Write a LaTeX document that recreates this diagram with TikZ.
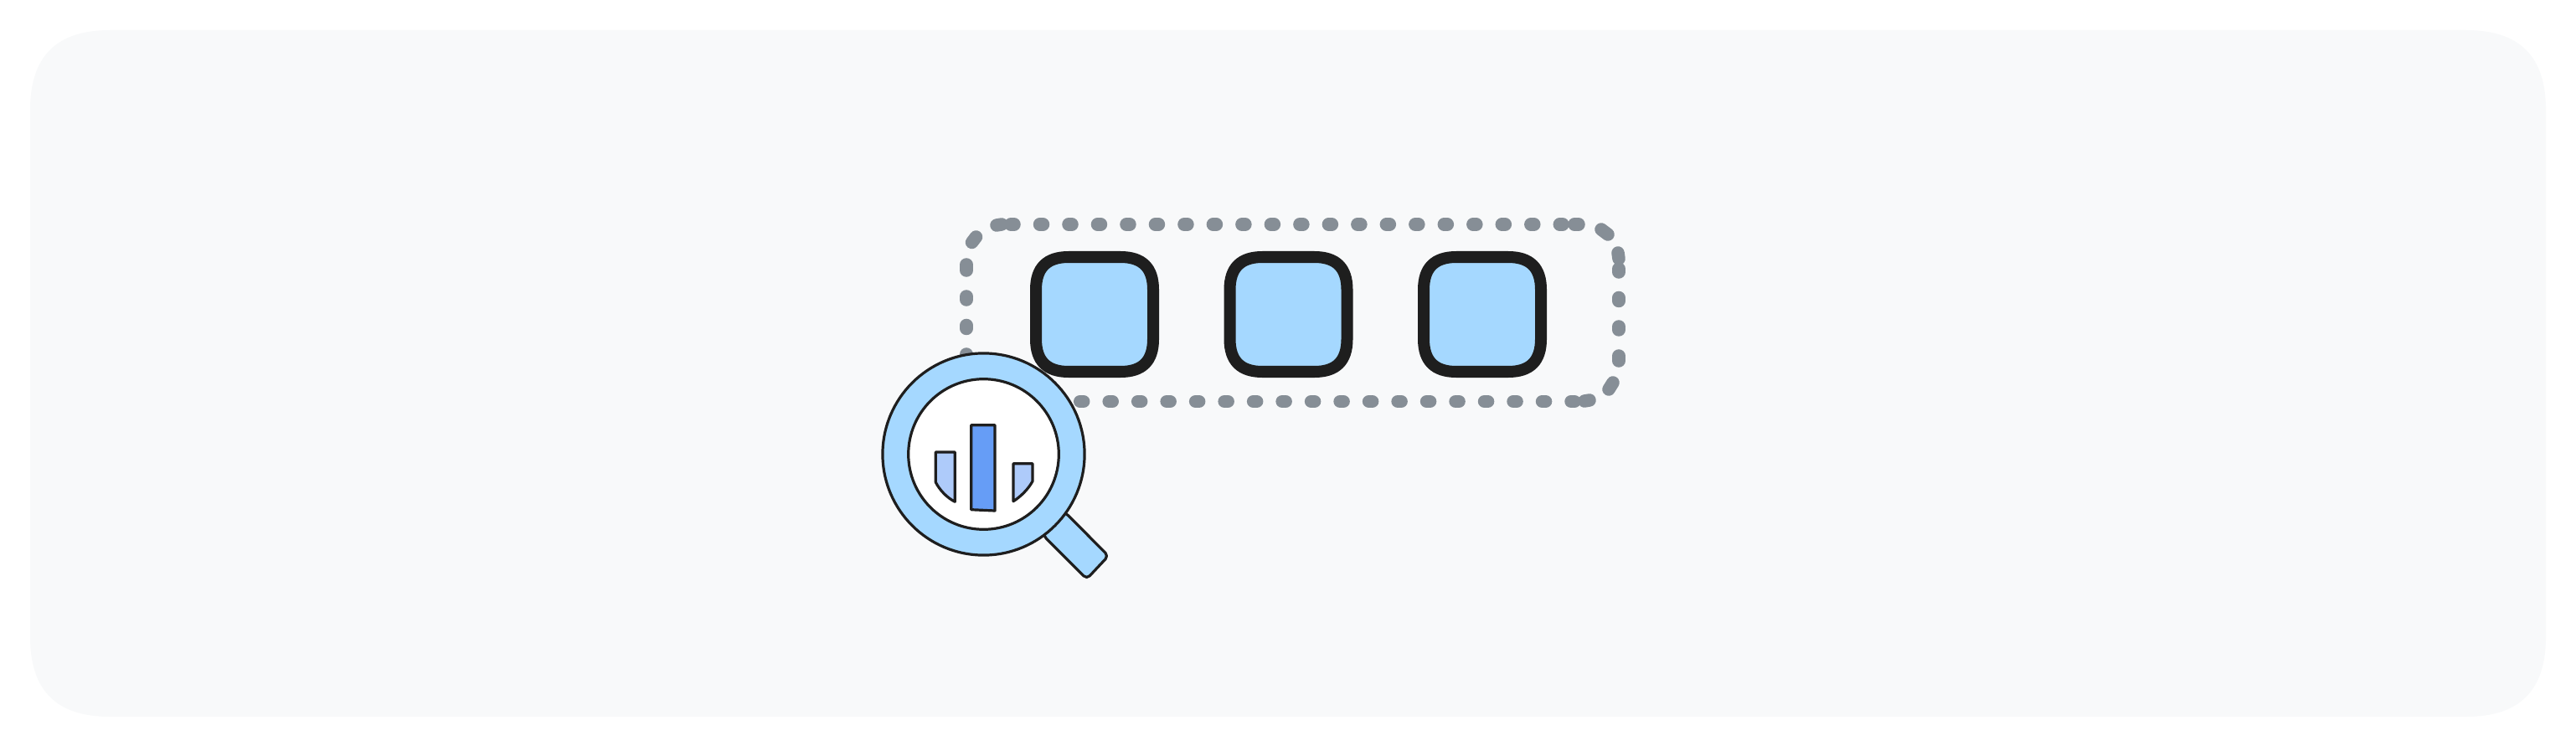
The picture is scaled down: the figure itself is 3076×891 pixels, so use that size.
\documentclass[tikz,border=0pt]{standalone}
\usepackage{tikz}

\definecolor{panelgray}{HTML}{F8F9FA}
\definecolor{dotgray}{HTML}{868E96}
\definecolor{inkblack}{HTML}{1E1E1E}
\definecolor{skyblue}{HTML}{A5D8FF}
\definecolor{barblue}{HTML}{669DF6}
\definecolor{barlight}{HTML}{AECBFA}

% style, left, top, right, bottom, corner length
\newcommand{\softbox}[6]{
    \path[#1] ({#2+#6}, #3) -- ({#4-#6}, #3)
        .. controls ({#4-.33*#6}, #3) and (#4, {#3+.33*#6}) .. (#4, {#3+#6}) -- (#4, {#5-#6})
        .. controls (#4, {#5-.33*#6}) and ({#4-.33*#6}, #5) .. ({#4-#6}, #5) -- ({#2+#6}, #5)
        .. controls ({#2+.33*#6}, #5) and (#2, {#5-.33*#6}) .. (#2, {#5-#6}) -- (#2, {#3+#6})
        .. controls (#2, {#3+.33*#6}) and ({#2+.33*#6}, #3) .. ({#2+#6}, #3) -- cycle;
}

\tikzset{
    dotline/.style = {draw=dotgray, line width=.155cm, line cap=round},
    dotrun/.style = {dotline, dash pattern=on .04cm off .3047cm},
    slotbox/.style = {draw=inkblack, fill=skyblue, line width=.14cm},
    lensline/.style = {draw=inkblack, line width=.032cm, line join=round},
    lensring/.style = {lensline, circle, inner sep=0pt},
}

\begin{document}
\begin{tikzpicture}[x=0.01cm, y=-0.01cm]
        \useasboundingbox (0, 0) rectangle (3076, 891);
        \softbox{fill=panelgray}{36}{36}{3040}{856}{95}

        % dotted frame, sides
        \draw[dotrun] (1207, 268) -- (1866, 268);
        \draw[dotrun] (1933, 321) -- (1933, 395);
        \draw[dotrun] (1289.7, 479.5) -- (1880, 479.5);
        \draw[dotrun] (1154, 354) -- (1154, 428);

        % dotted frame, corners
        \draw[dotline] (1190, 269) -- (1196, 268);
        \draw[dotline] (1880, 268) -- (1885, 268);
        \draw[dotline] (1912, 274) -- (1920, 280);
        \draw[dotline] (1932, 302) -- (1933, 309);
        \draw[dotline] (1933, 425) -- (1933, 431);
        \draw[dotline] (1926, 457) -- (1921, 465);
        \draw[dotline] (1892, 479) -- (1898, 478);
        \draw[dotline] (1154, 316) -- (1154, 323);
        \draw[dotline] (1160.5, 289.5) -- (1165.5, 283);

        % slots
        \softbox{slotbox}{1237}{307}{1377}{444}{39}
        \softbox{slotbox}{1468.5}{307}{1608.5}{444}{39}
        \softbox{slotbox}{1700}{307}{1840}{444}{39}

        % handle
        \draw[lensline, fill=skyblue, rounded corners=.05cm]
            (1240, 600) -- (1273.3, 613.3) -- (1323.5, 664) -- (1297.7, 691.5) -- (1246.7, 640.7) -- cycle;

        % lens
        \node[lensring, fill=skyblue, minimum size=2.41cm] (lensouter) at (1174.5, 542.5) {};
        \node[lensring, fill=white, minimum size=1.795cm] (lensinner) at (1174.5, 542.5) {};

        % bars
        \draw[lensline, fill=barlight] (1117.3, 540) -- (1140.3, 540) -- (1140.3, 599.3)
            .. controls (1130, 594) and (1122, 585) .. (1117.3, 576) -- cycle;
        \draw[lensline, fill=barblue] (1159.7, 507.7) -- (1188, 507.7) -- (1188, 610) -- (1159.7, 608.7) -- cycle;
        \draw[lensline, fill=barlight] (1210, 553.7) -- (1233, 553.7) -- (1233, 574.7)
            .. controls (1228, 584) and (1219, 593) .. (1210, 598.7) -- cycle;
\end{tikzpicture}
\end{document}
